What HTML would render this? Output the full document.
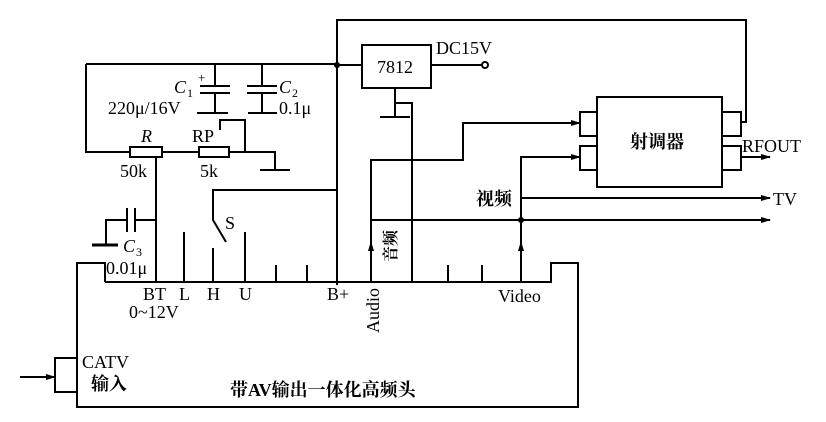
<!DOCTYPE html>
<html><head><meta charset="utf-8"><style>
html,body{margin:0;padding:0;background:#fff;}
svg{display:block;}
text{font-family:"Liberation Serif","Noto Serif CJK SC","Noto Sans CJK SC",serif;fill:#000;}
.c{font-family:"Liberation Serif","Noto Sans CJK SC",sans-serif;font-weight:bold;}
</style></head><body>
<svg width="826" height="422" viewBox="0 0 826 422" xmlns="http://www.w3.org/2000/svg">
<defs><marker id="a" markerWidth="10" markerHeight="6" refX="9" refY="3" orient="auto" markerUnits="userSpaceOnUse"><path d="M0,0 L10,3 L0,6 z" fill="#000"/></marker></defs>
<g stroke="#000" stroke-width="2" fill="none">
<polyline points="337,285 337,20 746,20 746,122 741,122"/>
<line x1="86" y1="64" x2="337" y2="64"/>
<polyline points="86,64 86,152 130,152"/>
<line x1="162" y1="152" x2="199" y2="152"/>
<polyline points="229,152 275,152 275,170"/>
<line x1="260" y1="170" x2="290" y2="170"/>
<rect x="130" y="147" width="32" height="10"/>
<rect x="199" y="147" width="30" height="10"/>
<polyline points="220,130 220,120 245,120 245,152"/>
<line x1="215" y1="64" x2="215" y2="86"/>
<line x1="200" y1="86" x2="230" y2="86"/>
<line x1="200" y1="93" x2="230" y2="93"/>
<line x1="215" y1="93" x2="215" y2="113"/>
<line x1="197" y1="113" x2="228" y2="113"/>
<line x1="262" y1="64" x2="262" y2="86"/>
<line x1="247" y1="86" x2="277" y2="86"/>
<line x1="247" y1="93" x2="277" y2="93"/>
<line x1="262" y1="93" x2="262" y2="113"/>
<line x1="248" y1="113" x2="277" y2="113"/>
<line x1="156" y1="157" x2="156" y2="282"/>
<line x1="135" y1="220" x2="156" y2="220"/>
<line x1="127" y1="208" x2="127" y2="232"/>
<line x1="135" y1="208" x2="135" y2="232"/>
<polyline points="127,220 106,220 106,245"/>
<line x1="92" y1="245" x2="118" y2="245" stroke-width="3"/>
<polyline points="337,190 213,190 213,220 226,242"/>
<line x1="213" y1="248" x2="213" y2="282"/>
<line x1="184" y1="232" x2="184" y2="282"/>
<line x1="245" y1="232" x2="245" y2="282"/>
<line x1="276" y1="265" x2="276" y2="282"/>
<line x1="307" y1="265" x2="307" y2="282"/>
<line x1="448" y1="265" x2="448" y2="282"/>
<line x1="482" y1="265" x2="482" y2="282"/>
<polyline points="105,282 551,282 551,263 578,263 578,407 77,407 77,263 105,263 105,282"/>
<rect x="55" y="358" width="22" height="34"/>
<line x1="20" y1="377" x2="55" y2="377" marker-end="url(#a)"/>
<line x1="337" y1="65" x2="362" y2="65"/>
<rect x="362" y="45" width="69" height="43"/>
<line x1="431" y1="65" x2="482" y2="65"/>
<circle cx="485" cy="65" r="3"/>
<line x1="395" y1="88" x2="395" y2="117"/>
<line x1="380" y1="117" x2="410" y2="117"/>
<polyline points="395,103 412,103 412,282"/>
<rect x="597" y="97" width="125" height="90"/>
<rect x="580" y="112" width="17" height="24"/>
<rect x="580" y="146" width="17" height="24"/>
<rect x="722" y="112" width="19" height="24"/>
<rect x="722" y="146" width="19" height="24"/>
<polyline points="371,282 371,160 463,160 463,123 580,123" marker-end="url(#a)"/>
<polyline points="521,282 521,157 580,157" marker-end="url(#a)"/>
<line x1="521" y1="198" x2="770" y2="198" marker-end="url(#a)"/>
<line x1="371" y1="220" x2="770" y2="220" marker-end="url(#a)"/>
<line x1="741" y1="157" x2="770" y2="157" marker-end="url(#a)"/>
<line x1="371" y1="252" x2="371" y2="242" marker-end="url(#a)"/>
<line x1="521" y1="252" x2="521" y2="242" marker-end="url(#a)"/>
</g>
<circle cx="337" cy="65" r="3"/><circle cx="521" cy="220" r="3"/>
<g font-size="18">
<text x="174" y="93" font-style="italic">C</text><text x="187" y="97" font-size="12">1</text>
<text x="198" y="82" font-size="13">+</text>
<text x="279" y="93" font-style="italic">C</text><text x="292" y="97" font-size="12">2</text>
<text x="108" y="114">220μ/16V</text>
<text x="279" y="114">0.1μ</text>
<text x="141" y="142" font-style="italic">R</text>
<text x="192" y="142">RP</text>
<text x="120" y="177">50k</text>
<text x="200" y="177">5k</text>
<text x="225" y="229">S</text>
<text x="123" y="252" font-style="italic">C</text><text x="136" y="256" font-size="12">3</text>
<text x="106" y="274">0.01μ</text>
<text x="143" y="300">BT</text><text x="179" y="300">L</text><text x="207" y="300">H</text><text x="239" y="300">U</text>
<text x="327" y="300">B+</text>
<text x="129" y="318">0~12V</text>
<text x="498" y="302">Video</text>
<text x="436" y="54">DC15V</text>
<text x="377" y="73">7812</text>
<text x="742" y="152">RFOUT</text>
<text x="773" y="205">TV</text>
<text x="82" y="368">CATV</text>
<text transform="translate(379,333) rotate(-90)">Audio</text>
</g>
<g font-size="18" class="c">
<text x="630" y="148">射调器</text>
<text x="476" y="205">视频</text>
<text x="91" y="390">输入</text>
<text x="230" y="396">带AV输出一体化高频头</text>
<text transform="translate(396,262) rotate(-90)" font-size="16">音频</text>
</g>
</svg>
</body></html>
